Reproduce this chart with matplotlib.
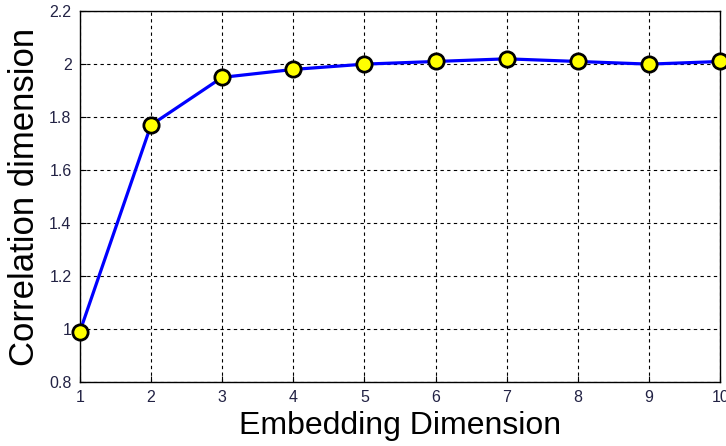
import matplotlib
matplotlib.use('Agg')
import matplotlib.pyplot as plt

# embedding dimension vs correlation dimension
emb_dim = [1, 2, 3, 4, 5, 6, 7, 8, 9, 10]
corr_dim = [0.99, 1.77, 1.95, 1.98, 2.00, 2.01, 2.02, 2.01, 2.00, 2.01]
x_ticks = [1, 2, 3, 4, 5, 6, 7, 8, 9, 10]
y_ticks = [0.8, 1, 1.2, 1.4, 1.6, 1.8, 2, 2.2]
y_tick_labels = ['0.8', '1', '1.2', '1.4', '1.6', '1.8', '2', '2.2']

plt.rcParams['font.family'] = ['Liberation Sans', 'DejaVu Sans']

fig = plt.figure(figsize=(7.26, 4.46), dpi=100)
ax = fig.add_axes([0.110, 0.1435, 0.882, 0.8315])

ax.plot(emb_dim, corr_dim, color='#0000ff', linewidth=2.3, marker='o',
        markersize=11, markerfacecolor='#ffff00', markeredgecolor='black',
        markeredgewidth=2, clip_on=False, zorder=3)

ax.set_xlim(1, 10)
ax.set_ylim(0.8, 2.2)
ax.set_xticks(x_ticks)
ax.set_yticks(y_ticks)
ax.set_yticklabels(y_tick_labels)
ax.tick_params(direction='in', length=4, labelsize=11.5, labelcolor='#222244', pad=6)
ax.grid(True, color='black', linestyle=(0, (3, 3)), linewidth=0.8)
for s in ax.spines.values():
    s.set_linewidth(1.0)

ax.set_xlabel('Embedding Dimension', fontsize=23, labelpad=4)
ax.set_ylabel('Correlation dimension', fontsize=25, labelpad=6)

fig.savefig('out.png', dpi=100)
